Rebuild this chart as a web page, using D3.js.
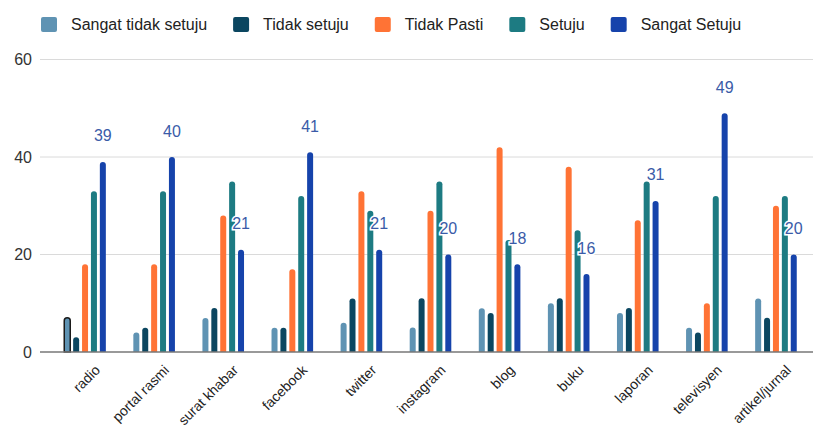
<!DOCTYPE html>
<html>
<head>
<meta charset="utf-8">
<script src="https://cdn.jsdelivr.net/npm/d3@7"></script>
<style>
  body { margin: 0; background: #fff; }
  text { font-family: "Liberation Sans", Arial, sans-serif; }
</style>
</head>
<body>
<div id="chart"></div>
<script>
const width = 813
const height = 438
const margin = { left: 40, right: 0, top: 59.5, bottom: 86 }

// data
const categories = ["radio", "portal rasmi", "surat khabar", "facebook", "twitter", "instagram", "blog", "buku", "laporan", "televisyen", "artikel/jurnal"]
const seriesNames = ["Sangat tidak setuju", "Tidak setuju", "Tidak Pasti", "Setuju", "Sangat Setuju"]
const sangatTidakSetuju = [7, 4, 7, 5, 6, 5, 9, 10, 8, 5, 11]
const tidakSetuju = [3, 5, 9, 5, 11, 11, 8, 11, 9, 4, 7]
const tidakPasti = [18, 18, 28, 17, 33, 29, 42, 38, 27, 10, 30]
const setuju = [33, 33, 35, 32, 29, 35, 23, 25, 35, 32, 32]
const sangatSetuju = [39, 40, 21, 41, 21, 20, 18, 16, 31, 49, 20]
const yTicks = [0, 20, 40, 60]

const seriesValues = [sangatTidakSetuju, tidakSetuju, tidakPasti, setuju, sangatSetuju]
const colors = ["#5f93b3", "#0b4660", "#ff7335", "#1d7b82", "#1643ab"]

const rows = []
categories.forEach((c, i) => {
    seriesNames.forEach((s, j) => {
        rows.push({ cat: c, series: s, value: seriesValues[j][i] })
    })
})

const svg = d3.select("#chart").append("svg").attr("width", width).attr("height", height)

const x0 = d3.scaleBand().domain(categories).range([50.5, 810.5]).padding(0)
const x1 = d3.scaleBand().domain(seriesNames).range([-20.8, 20.8]).paddingInner(0.326)
const y = d3.scaleLinear().domain([0, 60]).range([352, 59.5])
const color = d3.scaleOrdinal().domain(seriesNames).range(colors)

const cx = d => x0(d.cat) + x0.bandwidth() / 2 + x1(d.series)

// grid
svg.append("g").selectAll("line")
    .data(yTicks.filter(t => t > 0))
    .join("line")
        .attr("x1", margin.left).attr("x2", width)
        .attr("y1", d => y(d)).attr("y2", d => y(d))
        .attr("stroke", "#dadada").attr("stroke-width", 1)

// y labels
svg.append("g").selectAll("text")
    .data(yTicks)
    .join("text")
        .text(d => d)
        .attr("x", 32)
        .attr("y", d => y(d))
        .attr("dy", "0.35em")
        .attr("text-anchor", "end")
        .attr("font-size", 16)
        .attr("fill", "#333")

// bars with rounded tops
const bw = x1.bandwidth()
function barPath(d) {
    const x = cx(d), top = y(d.value), base = y(0), r = bw / 2
    return `M${x},${base} V${top + r} A${r},${r} 0 0 1 ${x + bw},${top + r} V${base} Z`
}

svg.append("g").selectAll("path")
    .data(rows)
    .join("path")
        .attr("d", barPath)
        .attr("fill", d => color(d.series))
        .attr("stroke", (d, i) => i === 0 ? "#1a1a1a" : "none")
        .attr("stroke-width", 1.5)

// baseline
svg.append("line")
    .attr("x1", margin.left).attr("x2", width)
    .attr("y1", y(0)).attr("y2", y(0))
    .attr("stroke", "#777").attr("stroke-width", 1.5)

// value labels on Sangat Setuju
svg.append("g").selectAll("text")
    .data(rows.filter(d => d.series === "Sangat Setuju"))
    .join("text")
        .text(d => d.value)
        .attr("x", d => cx(d) + bw / 2)
        .attr("y", d => y(d.value) - 20.5)
        .attr("text-anchor", "middle")
        .attr("font-size", 16)
        .attr("fill", "#3a5ba8")
        .attr("stroke", "#fff")
        .attr("stroke-width", 3)
        .attr("paint-order", "stroke")

// x labels
svg.append("g").selectAll("text")
    .data(categories)
    .join("text")
        .text(d => d)
        .attr("transform", d => `translate(${x0(d) + x0.bandwidth() / 2 + 9},${364}) rotate(-45)`)
        .attr("text-anchor", "end")
        .attr("dy", "0.7em")
        .attr("font-size", 14)
        .attr("fill", "#222")

// legend
const legend = svg.append("g").attr("id", "legend")
let lx = 41
seriesNames.forEach((s, i) => {
    const g = legend.append("g")
    g.append("rect")
        .attr("x", lx).attr("y", 17)
        .attr("width", 16).attr("height", 15)
        .attr("rx", 2)
        .attr("fill", colors[i])
    const t = g.append("text")
        .text(s)
        .attr("x", lx + 30)
        .attr("y", 30)
        .attr("font-size", 16)
        .attr("fill", "#222")
    lx += 30 + t.node().getComputedTextLength() + 26
})
</script>
</body>
</html>
